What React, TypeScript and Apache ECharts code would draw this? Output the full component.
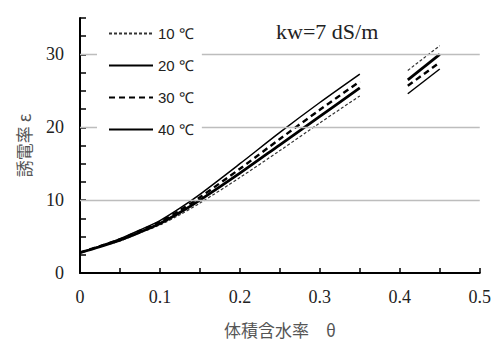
import React, { useEffect, useRef } from "react";
import * as echarts from "echarts";

const thetaLow = [0, 0.025, 0.05, 0.075, 0.1, 0.125, 0.15, 0.2, 0.25, 0.3, 0.35];
const thetaHigh = [0.41, 0.45];

const eps10Low = [2.8, 3.6, 4.4, 5.5, 6.6, 8.0, 9.6, 13.1, 16.8, 20.6, 24.3];
const eps20Low = [2.8, 3.6, 4.5, 5.6, 6.8, 8.3, 10.0, 13.7, 17.6, 21.5, 25.4];
const eps30Low = [2.8, 3.7, 4.6, 5.8, 7.0, 8.6, 10.4, 14.3, 18.4, 22.4, 26.3];
const eps40Low = [2.8, 3.7, 4.7, 5.9, 7.2, 8.9, 10.8, 15.0, 19.3, 23.4, 27.3];

const eps10High = [27.8, 31.2];
const eps20High = [26.5, 30.0];
const eps30High = [25.7, 28.9];
const eps40High = [24.6, 28.0];

const seriesNames = ["10 ℃", "20 ℃", "30 ℃", "40 ℃"];
const gridValues = [10, 20, 30];
const annotation = "kw=7 dS/m";
const xName = "体積含水率　θ";
const yName = "誘電率 ε";

const pairs = (xs: number[], ys: number[]) => xs.map((x, i) => [x, ys[i]]);

export default function App() {
  const ref = useRef<HTMLDivElement>(null);
  useEffect(() => {
    if (!ref.current) return;
    const chart = echarts.init(ref.current, null, { renderer: "svg" });
    const styles = [
      { color: "#333", width: 1.2, type: [3, 2] as any },
      { color: "#000", width: 2.8, type: "solid" as any },
      { color: "#000", width: 2.4, type: [6, 4] as any },
      { color: "#000", width: 1.5, type: "solid" as any },
    ];
    const lows = [eps10Low, eps20Low, eps30Low, eps40Low];
    const highs = [eps10High, eps20High, eps30High, eps40High];
    const series: any[] = [
      {
        type: "line",
        name: "grid",
        data: [],
        z: 1,
        silent: true,
        markLine: {
          silent: true,
          symbol: "none",
          label: { show: false },
          lineStyle: { color: "#bdbdbd", width: 1.3, type: "solid" },
          data: gridValues.map((v) => ({ yAxis: v })),
        },
      },
    ];
    seriesNames.forEach((name, i) => {
      series.push({
        type: "line",
        name,
        data: pairs(thetaLow, lows[i]),
        smooth: 0.3,
        symbol: "none",
        z: 3,
        lineStyle: styles[i],
        itemStyle: { color: styles[i].color },
      });
      series.push({
        type: "line",
        name,
        data: pairs(thetaHigh, highs[i]),
        symbol: "none",
        z: 3,
        lineStyle: styles[i],
        itemStyle: { color: styles[i].color },
      });
    });
    chart.setOption({
      animation: false,
      backgroundColor: "#fff",
      grid: { left: 80, right: 11, top: 18, bottom: 65, containLabel: false },
      title: {
        text: annotation,
        left: 271,
        top: 15,
        textStyle: {
          fontFamily: "Liberation Serif",
          fontSize: 22,
          fontWeight: "normal",
          color: "#222",
        },
      },
      legend: {
        data: seriesNames,
        orient: "vertical",
        left: 97,
        top: 21,
        padding: [5, 8, 5, 11],
        backgroundColor: "#fff",
        itemWidth: 44,
        itemHeight: 14,
        itemGap: 17,
        z: 10,
        itemStyle: { opacity: 0 },
        textStyle: { fontFamily: "Liberation Sans", fontSize: 15, color: "#222" },
      },
      xAxis: {
        type: "value",
        min: 0,
        max: 0.5,
        interval: 0.05,
        name: xName,
        nameLocation: "middle",
        nameGap: 48,
        nameTextStyle: { fontFamily: "Noto Sans CJK JP", fontSize: 17, color: "#555" },
        axisLine: { show: true, lineStyle: { color: "#000", width: 2 } },
        axisTick: { show: true, inside: true, length: 5, lineStyle: { color: "#000", width: 1.5 } },
        splitLine: { show: false },
        axisLabel: {
          margin: 15,
          fontFamily: "Liberation Serif",
          fontSize: 18,
          color: "#222",
          formatter: (v: number) => {
            const k = Math.round(v * 100);
            if (k % 10 !== 0) return "";
            return k === 0 ? "0" : (k / 100).toFixed(1);
          },
        },
      },
      yAxis: {
        type: "value",
        min: 0,
        max: 35,
        interval: 2.5,
        name: yName,
        nameLocation: "middle",
        nameGap: 48,
        nameRotate: 90,
        nameTextStyle: { fontFamily: "Noto Sans CJK JP", fontSize: 17, color: "#555" },
        axisLine: { show: true, lineStyle: { color: "#000", width: 2 } },
        axisTick: { show: true, inside: true, length: 6, lineStyle: { color: "#000", width: 1.5 } },
        splitLine: { show: false },
        axisLabel: {
          margin: 16,
          fontFamily: "Liberation Serif",
          fontSize: 18,
          color: "#222",
          formatter: (v: number) => (Math.round(v * 10) % 100 === 0 ? String(Math.round(v)) : ""),
        },
      },
      series,
    });
    return () => chart.dispose();
  }, []);
  return (
    <div
      ref={ref}
      style={{ position: "fixed", left: 0, top: 0, width: 494, height: 343 }}
    />
  );
}
